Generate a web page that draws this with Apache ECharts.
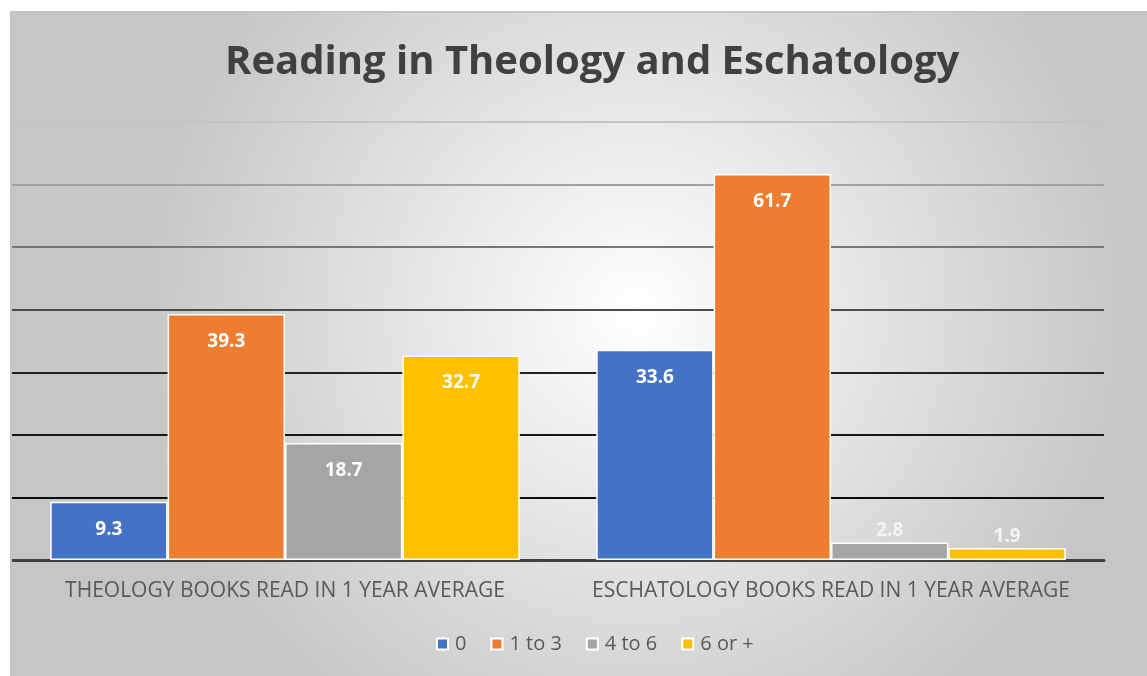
<!DOCTYPE html>
<html>
<head>
<meta charset="utf-8">
<script src="https://cdn.jsdelivr.net/npm/echarts@6/dist/echarts.min.js"></script>
<style>
  html, body { margin: 0; padding: 0; background: #fff; }
  #chart {
    position: absolute;
    left: 10px;
    top: 11px;
    width: 1137px;
    height: 665px;
    border-left: 2px solid #c4c4c4;
    border-top: 2px solid #c4c4c4;
    box-sizing: border-box;
  }
</style>
</head>
<body>
<div id="chart"></div>
<script>
const categories = [
  "THEOLOGY BOOKS READ IN 1 YEAR AVERAGE",
  "ESCHATOLOGY BOOKS READ IN 1 YEAR AVERAGE",
];
const seriesNames = ["0", "1 to 3", "4 to 6", "6 or +"];
const values0 = [9.3, 33.6];
const values1to3 = [39.3, 61.7];
const values4to6 = [18.7, 2.8];
const values6plus = [32.7, 1.9];
const colors = ["#4472c4", "#ed7d31", "#a5a5a5", "#ffc000"];

const chart = echarts.init(document.getElementById("chart"));

const font = "'Open Sans', 'Noto Sans', sans-serif";

// small bars get their label above the bar, like Excel does
const makeData = (values) =>
  values.map((v) =>
    v < 5
      ? { value: v, label: { position: "top", distance: 2, color: "#f4f4f4" } }
      : v
  );

const makeSeries = (name, values, color) => ({
  name,
  type: "bar",
  data: makeData(values),
  barGap: "0%",
  barCategoryGap: "14%",
  itemStyle: {
    color,
    borderColor: "#ffffff",
    borderWidth: 1.5,
  },
  label: {
    show: true,
    position: "insideTop",
    distance: 18,
    color: "#ffffff",
    fontFamily: font,
    fontWeight: "bold",
    fontSize: 19,
  },
});

const option = {
  backgroundColor: new echarts.graphic.RadialGradient(0.55, 0.45, 0.75, [
    { offset: 0, color: "#ffffff" },
    { offset: 1, color: "#c6c6c6" },
  ]),
  color: colors,
  title: {
    text: "Reading in Theology and Eschatology",
    left: 208,
    top: 25,
    textStyle: {
      fontFamily: font,
      fontWeight: "bold",
      fontSize: 40,
      color: "#404040",
    },
  },
  legend: {
    bottom: 17,
    left: 419,
    itemWidth: 11,
    itemHeight: 11,
    itemGap: 24,
    icon: "rect",
    textStyle: {
      fontFamily: font,
      fontSize: 20,
      color: "#595959",
      padding: [0, 0, 0, 2],
    },
    data: seriesNames,
  },
  grid: {
    left: 0,
    right: 43,
    top: 109,
    bottom: 116,
  },
  xAxis: {
    type: "category",
    data: categories,
    axisLine: {
      lineStyle: { color: "#404040", width: 3 },
    },
    axisTick: { show: false },
    axisLabel: {
      interval: 0,
      fontFamily: font,
      fontSize: 21,
      color: "#595959",
      margin: 21,
    },
  },
  yAxis: {
    type: "value",
    min: 0,
    max: 70,
    interval: 10,
    axisLine: { show: false },
    axisTick: { show: false },
    axisLabel: { show: false },
    splitLine: {
      lineStyle: {
        width: 2,
        color: new echarts.graphic.LinearGradient(0, 120, 0, 560, [
          { offset: 0, color: "#c4c4c4" },
          { offset: 0.55, color: "#202020" },
          { offset: 1, color: "#000000" },
        ], true),
      },
    },
  },
  series: [
    makeSeries(seriesNames[0], values0, colors[0]),
    makeSeries(seriesNames[1], values1to3, colors[1]),
    makeSeries(seriesNames[2], values4to6, colors[2]),
    makeSeries(seriesNames[3], values6plus, colors[3]),
  ],
};

chart.setOption(option);
window.addEventListener("resize", () => chart.resize());
</script>
</body>
</html>
